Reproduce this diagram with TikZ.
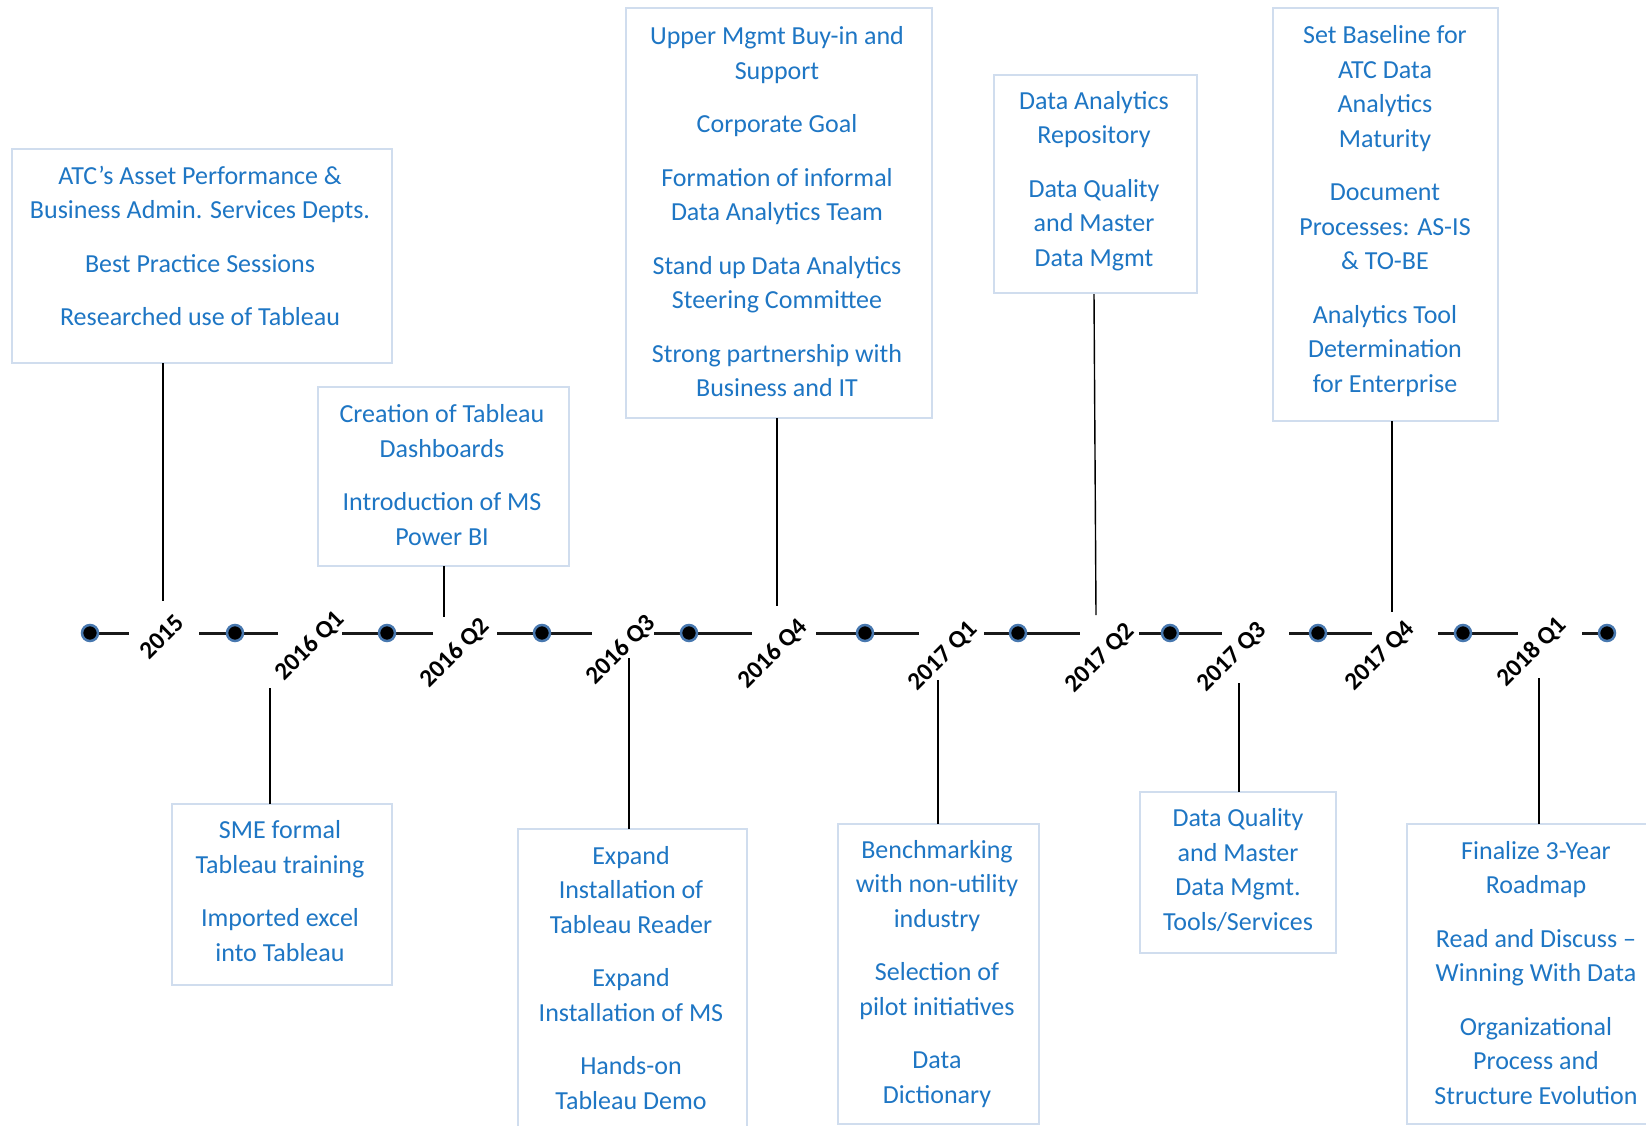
\documentclass[tikz,border=0pt]{standalone}
\usepackage{fontspec}
\setmainfont{Carlito}
\definecolor{txtblue}{RGB}{30,118,196}
\definecolor{boxline}{RGB}{208,221,238}
\definecolor{dotring}{RGB}{72,120,175}
\definecolor{segcol}{RGB}{25,25,25}
\begin{document}
\begin{tikzpicture}[x=1pt,y=-1pt,
  box/.style={draw=boxline, line width=1.5pt, fill=white, anchor=north west, inner sep=0pt, outer sep=0pt},
  txt/.style={text=txtblue, align=center, inner sep=0pt, font=\fontsize{26}{34.5}\selectfont},
  lbl/.style={rotate=45, inner sep=0pt, font=\fontsize{25}{30}\selectfont\bfseries, text=black},
  dotn/.style={circle, fill=black, draw=dotring, line width=2.5pt, minimum size=16pt, inner sep=0pt},
  seg/.style={draw=segcol, line width=3pt},
  conn/.style={draw=black, line width=1.4pt}
]
\useasboundingbox (0,0) rectangle (1646,1125);
\begin{scope}
\clip (0,0) rectangle (1646,1125);
% ---------- boxes ----------
\node[box, minimum width=380pt, minimum height=214pt] (b1) at (12,149) {};
\node[box, minimum width=251pt, minimum height=179pt] (b2) at (318,387) {};
\node[box, minimum width=306pt, minimum height=410pt] (b3) at (626,8) {};
\node[box, minimum width=203pt, minimum height=218pt] (b4) at (994,75) {};
\node[box, minimum width=225pt, minimum height=413pt] (b5) at (1273,8) {};
\node[box, minimum width=220pt, minimum height=181pt] (b6) at (172,804) {};
\node[box, minimum width=229pt, minimum height=330pt] (b7) at (518,829) {};
\node[box, minimum width=201pt, minimum height=300pt] (b8) at (838,824) {};
\node[box, minimum width=196pt, minimum height=161pt] (b9) at (1140,792) {};
\node[box, minimum width=260pt, minimum height=300pt] (b10) at (1407,824) {};
\end{scope}
% ---------- texts ----------
\node[txt] (t1) at (200,246) {ATC’s Asset Performance \&\\Business Admin. Services Depts.\\[19pt]Best Practice Sessions\\[19pt]Researched use of Tableau};
\node[txt] (t2) at (442,475) {Creation of Tableau\\Dashboards\\[19pt]Introduction of MS\\Power BI};
\node[txt] (t3) at (777,212) {Upper Mgmt Buy-in and\\Support\\[19pt]Corporate Goal\\[19pt]Formation of informal\\Data Analytics Team\\[19pt]Stand up Data Analytics\\Steering Committee\\[19pt]Strong partnership with\\Business and IT};
\node[txt] (t4) at (1094,181) {Data Analytics\\Repository\\[19pt]Data Quality\\and Master\\Data Mgmt};
\node[txt] (t5) at (1385,211) {Set Baseline for\\ATC Data\\Analytics\\Maturity\\[19pt]Document\\Processes: AS-IS\\\& TO-BE\\[19pt]Analytics Tool\\Determination\\for Enterprise};
\node[txt] (t6) at (280,891) {SME formal\\Tableau training\\[19pt]Imported excel\\into Tableau};
\node[txt] (t7) at (631,978) {Expand\\Installation of\\Tableau Reader\\[19pt]Expand\\Installation of MS\\[19pt]Hands-on\\Tableau Demo};
\node[txt] (t8) at (937,974) {Benchmarking\\with non-utility\\industry\\[19pt]Selection of\\pilot initiatives\\[19pt]Data\\Dictionary};
\node[txt] (t9) at (1238,870) {Data Quality\\and Master\\Data Mgmt.\\Tools/Services};
\node[txt] (t10) at (1536,973) {Finalize 3-Year\\Roadmap\\[19pt]Read and Discuss –\\Winning With Data\\[19pt]Organizational\\Process and\\Structure Evolution};
% ---------- timeline segments ----------
\foreach \a/\b/\n in {83/129/1, 199/278/2, 342/433/3, 497/592/4, 654/752/5, 816/919/6, 984/1080/7, 1139/1222/8, 1289/1372/9, 1438/1518/10, 1582/1607/11}{
  \coordinate (sa\n) at (\a,633);
  \coordinate (sb\n) at (\b,633);
  \draw[seg] (sa\n) -- (sb\n);
}
% ---------- dots ----------
\foreach \x/\n in {90/1, 235/2, 387/3, 542/4, 689/5, 865/6, 1018/7, 1170/8, 1318/9, 1463/10, 1607/11}{
  \node[dotn] (d\n) at (\x,633) {};
}
% ---------- labels ----------
\node[lbl] (l1) at (162,637) {2015};
\node[lbl] (l2) at (310,646) {2016 Q1};
\node[lbl] (l3) at (455,653) {2016 Q2};
\node[lbl] (l4) at (621,650) {2016 Q3};
\node[lbl] (l5) at (773,654) {2016 Q4};
\node[lbl] (l6) at (943,656) {2017 Q1};
\node[lbl] (l7) at (1100,658) {2017 Q2};
\node[lbl] (l8) at (1232,657) {2017 Q3};
\node[lbl] (l9) at (1380,656) {2017 Q4};
\node[lbl] (l10) at (1532,652) {2018 Q1};
% ---------- connectors ----------
\coordinate (c1) at (163,601);
\coordinate (c2) at (444,617);
\coordinate (c3) at (777,606);
\coordinate (c4) at (1096,615);
\coordinate (c5) at (1392,612);
\coordinate (c6) at (270,688);
\coordinate (c7) at (629,658);
\coordinate (c8) at (938,680);
\coordinate (c9) at (1239,683);
\coordinate (c10) at (1539,678);
\draw[conn] (b1.south -| c1) -- (c1);
\draw[conn] (b2.south -| c2) -- (c2);
\draw[conn] (b3.south -| c3) -- (c3);
\draw[conn] (1094,294) -- (c4);
\draw[conn] (b5.south -| c5) -- (c5);
\draw[conn] (b6.north -| c6) -- (c6);
\draw[conn] (b7.north -| c7) -- (c7);
\draw[conn] (b8.north -| c8) -- (c8);
\draw[conn] (b9.north -| c9) -- (c9);
\draw[conn] (b10.north -| c10) -- (c10);
\end{tikzpicture}
\end{document}
